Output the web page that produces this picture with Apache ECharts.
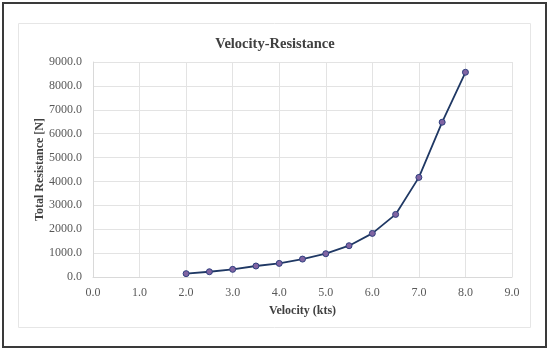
<!DOCTYPE html>
<html><head><meta charset="utf-8">
<script src="https://cdn.jsdelivr.net/npm/echarts@6/dist/echarts.min.js"></script>
<style>html,body{margin:0;padding:0;background:#fff}#c{width:550px;height:352px}</style>
</head><body><div id="c"></div>
<script>
const velocity = [2.0, 2.5, 3.0, 3.5, 4.0, 4.5, 5.0, 5.5, 6.0, 6.5, 7.0, 7.5, 8.0];
const resistance = [140, 220, 320, 460, 570, 750, 975, 1310, 1825, 2620, 4170, 6480, 8570];
const titleText = 'Velocity-Resistance';
const xTitle = 'Velocity (kts)';
const yTitle = 'Total Resistance [N]';

const chart = echarts.init(document.getElementById('c'), null, {renderer: 'canvas'});
const serif = '"Liberation Serif", "Times New Roman", serif';
chart.setOption({
  animation: false,
  backgroundColor: '#fff',
  title: {text: titleText, left: 'center', top: 32,
    textStyle: {fontFamily: serif, fontSize: 14.5, fontWeight: 'bold', color: '#404040'}},
  grid: {left: 93, right: 38, top: 62, bottom: 75, containLabel: false},
  xAxis: {type: 'value', min: 0, max: 9, interval: 1,
    name: xTitle, nameLocation: 'middle', nameGap: 28, nameMoveOverlap: false,
    nameTextStyle: {fontFamily: serif, fontSize: 12, fontWeight: 'bold', color: '#404040'},
    axisLine: {show: true, lineStyle: {color: '#d9d9d9'}},
    axisTick: {show: false},
    axisLabel: {fontFamily: serif, fontSize: 12, color: '#595959', margin: 10,
      formatter: v => v.toFixed(1)},
    splitLine: {show: true, lineStyle: {color: '#e3e3e3'}}},
  yAxis: {type: 'value', min: 0, max: 9000, interval: 1000,
    name: yTitle, nameLocation: 'middle', nameGap: 47, nameRotate: 90, nameMoveOverlap: false,
    nameTextStyle: {fontFamily: serif, fontSize: 12, fontWeight: 'bold', color: '#404040'},
    axisLine: {show: true, lineStyle: {color: '#d9d9d9'}},
    axisTick: {show: false},
    axisLabel: {fontFamily: serif, fontSize: 12, color: '#595959', margin: 11,
      formatter: v => v.toFixed(1)},
    splitLine: {show: true, lineStyle: {color: '#e3e3e3'}}},
  series: [{
    type: 'line',
    data: velocity.map((v, i) => [v, resistance[i]]),
    symbol: 'circle', symbolSize: 6,
    lineStyle: {color: '#1f3864', width: 1.8},
    itemStyle: {color: '#8064a2', borderColor: '#2f3f7f', borderWidth: 1}
  }],
  graphic: [
    {type: 'rect', shape: {x: 3, y: 3, width: 543, height: 344},
      style: {fill: null, stroke: '#3a3a3a', lineWidth: 2}, silent: true, z: -1},
    {type: 'rect', shape: {x: 18.5, y: 23.5, width: 512, height: 304},
      style: {fill: null, stroke: '#e6e6e6', lineWidth: 1}, silent: true, z: -1}
  ]
});
</script></body></html>
